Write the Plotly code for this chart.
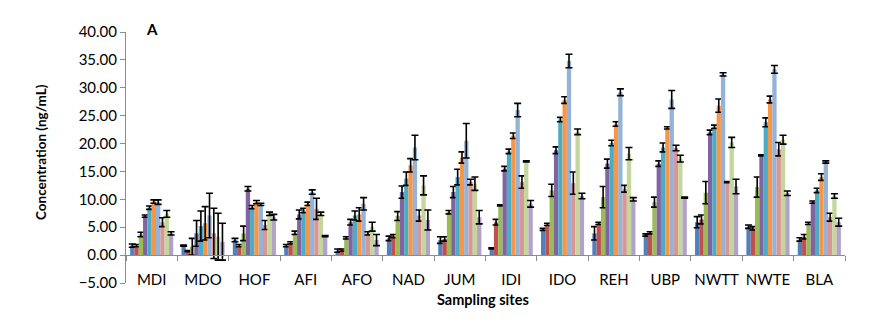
import plotly.graph_objects as go

sites = ["MDI", "MDO", "HOF", "AFI", "AFO", "NAD", "JUM", "IDI", "IDO", "REH", "UBP", "NWTT", "NWTE", "BLA"]

s1 = [1.7, 1.7, 2.7, 1.7, 0.8, 3.0, 2.7, 1.2, 4.6, 3.9, 3.6, 5.9, 5.1, 2.8]
e1 = [0.3, 0.1, 0.3, 0.2, 0.3, 0.4, 0.6, 0.1, 0.2, 1.2, 0.2, 1.0, 0.3, 0.3]
s2 = [1.7, 0.7, 1.7, 2.2, 0.9, 3.4, 2.9, 5.9, 5.5, 5.7, 4.0, 6.4, 4.8, 3.3]
e2 = [0.2, 0.1, 0.2, 0.2, 0.2, 0.3, 0.4, 0.5, 0.2, 0.2, 0.2, 0.8, 0.3, 0.4]
s3 = [3.7, 1.5, 3.9, 4.0, 3.1, 7.0, 7.7, 8.9, 11.6, 10.4, 9.5, 11.2, 12.2, 5.7]
e3 = [0.4, 1.5, 1.3, 0.3, 0.2, 0.8, 0.3, 0.1, 1.1, 1.9, 0.9, 2.0, 1.8, 0.2]
s4 = [7.0, 3.9, 11.9, 7.3, 5.9, 11.3, 11.3, 15.5, 18.8, 16.4, 16.4, 22.0, 17.9, 9.5]
e4 = [0.2, 2.3, 0.4, 0.8, 0.5, 1.1, 1.0, 0.4, 0.6, 0.8, 0.5, 0.4, 0.1, 0.2]
s5 = [8.5, 5.2, 8.6, 8.0, 7.1, 13.7, 14.0, 18.6, 24.3, 20.1, 19.3, 23.0, 23.8, 11.6]
e5 = [0.3, 2.7, 0.3, 0.4, 0.8, 1.2, 1.4, 0.4, 0.4, 0.5, 0.8, 0.3, 0.8, 0.4]
s6 = [9.6, 5.7, 9.5, 9.2, 7.3, 16.1, 17.5, 21.4, 27.8, 23.5, 22.8, 26.8, 27.9, 14.0]
e6 = [0.3, 3.0, 0.3, 0.3, 1.2, 1.2, 1.0, 0.5, 0.6, 0.4, 0.2, 1.2, 0.6, 0.6]
s7 = [9.5, 7.1, 9.1, 11.3, 9.2, 19.3, 20.5, 26.0, 34.8, 29.2, 27.9, 32.4, 33.3, 16.7]
e7 = [0.4, 4.0, 0.2, 0.4, 1.1, 2.2, 3.1, 1.2, 1.2, 0.6, 1.6, 0.3, 0.7, 0.2]
s8 = [5.9, 3.9, 5.4, 8.3, 3.9, 7.1, 13.1, 13.1, 12.9, 11.9, 19.2, 13.1, 19.0, 6.8]
e8 = [0.8, 4.5, 0.8, 1.9, 0.3, 1.0, 0.5, 1.1, 2.0, 0.6, 0.5, 0.1, 1.2, 0.7]
s9 = [7.4, 3.3, 7.4, 7.4, 5.1, 12.5, 12.8, 16.8, 22.1, 18.2, 17.3, 20.2, 20.7, 10.6]
e9 = [0.6, 4.2, 0.3, 0.3, 0.8, 1.7, 1.2, 0.1, 0.5, 1.1, 0.6, 0.9, 0.8, 0.4]
s10 = [3.9, 2.4, 6.8, 3.4, 2.7, 6.3, 6.8, 9.2, 10.6, 10.0, 10.3, 12.3, 11.1, 5.9]
e10 = [0.3, 3.3, 0.5, 0.1, 1.0, 1.8, 1.2, 0.6, 0.5, 0.3, 0.1, 1.3, 0.4, 0.7]

series = [s1, s2, s3, s4, s5, s6, s7, s8, s9, s10]
errors = [e1, e2, e3, e4, e5, e6, e7, e8, e9, e10]
names = ["Series %d" % (i + 1) for i in range(10)]
colors = ["#4F81BD", "#C0504D", "#9BBB59", "#8064A2", "#4BACC6",
          "#F79646", "#95B3D7", "#D99694", "#C3D69B", "#B3A2C7"]

yticks = [-5, 0, 5, 10, 15, 20, 25, 30, 35, 40]

FONT = "Lato"
AXC = "#8C8C8C"

fig = go.Figure()
for vals, errs, name, col in zip(series, errors, names, colors):
    fig.add_trace(go.Bar(
        x=sites, y=vals, name=name, marker=dict(color=col, line=dict(width=0)),
        error_y=dict(type="data", array=errs, visible=True, color="black",
                     thickness=1.6, width=3.5),
        showlegend=False))

# boundary ticks on the zero line
n = len(sites)
fig.add_trace(go.Scatter(x=[], y=[], xaxis="x2", yaxis="y", showlegend=False, hoverinfo="skip"))

PW, PH = 719, 251  # plot area size

fig.update_layout(
    template="none",
    width=861, height=316,
    margin=dict(l=118, r=24, t=24, b=41, autoexpand=False),
    paper_bgcolor="white", plot_bgcolor="white",
    barmode="group", bargap=0.16, bargroupgap=0,
    font=dict(family=FONT, color="black"),
    xaxis=dict(type="category", showline=False, ticks="", showgrid=False,
               automargin=False, zeroline=False,
               tickfont=dict(size=15, family=FONT, color="black"),
               anchor="free", position=0.056, range=[-0.5, n - 0.5]),
    xaxis2=dict(overlaying="x", range=[-0.5, n - 0.5], anchor="free",
                position=5 / 45, showline=True, linecolor=AXC, linewidth=1,
                ticks="outside", ticklen=5, tickcolor=AXC, tickwidth=1,
                tickvals=[i - 0.5 for i in range(n + 1)], automargin=False,
                showticklabels=False, showgrid=False, zeroline=False),
    yaxis=dict(range=[-5, 40], tickvals=yticks, tickformat=".2f",
               showline=True, linecolor=AXC, linewidth=1, automargin=False,
               ticks="outside", ticklen=5, tickcolor=AXC, tickwidth=1,
               showgrid=False, zeroline=False,
               tickfont=dict(size=15, family=FONT, color="black")),
    annotations=[
        dict(text="Concentration (ng/mL)", textangle=-90, xref="paper", yref="paper",
             x=(41 - 126) / PW, y=(283 - 152) / PH, xanchor="center", yanchor="middle",
             showarrow=False, font=dict(size=13.5, family=FONT, weight="bold", color="black")),
        dict(text="Sampling sites", xref="paper", yref="paper",
             x=(483 - 126) / PW, y=(283 - 299) / PH, xanchor="center", yanchor="middle",
             showarrow=False, font=dict(size=14.5, family=FONT, weight="bold", color="black")),
        dict(text="A", xref="paper", yref="paper",
             x=(152 - 126) / PW, y=(283 - 29) / PH, xanchor="center", yanchor="middle",
             showarrow=False, font=dict(size=15, family=FONT, weight="bold", color="black")),
    ],
)

fig.write_html("out.html")
